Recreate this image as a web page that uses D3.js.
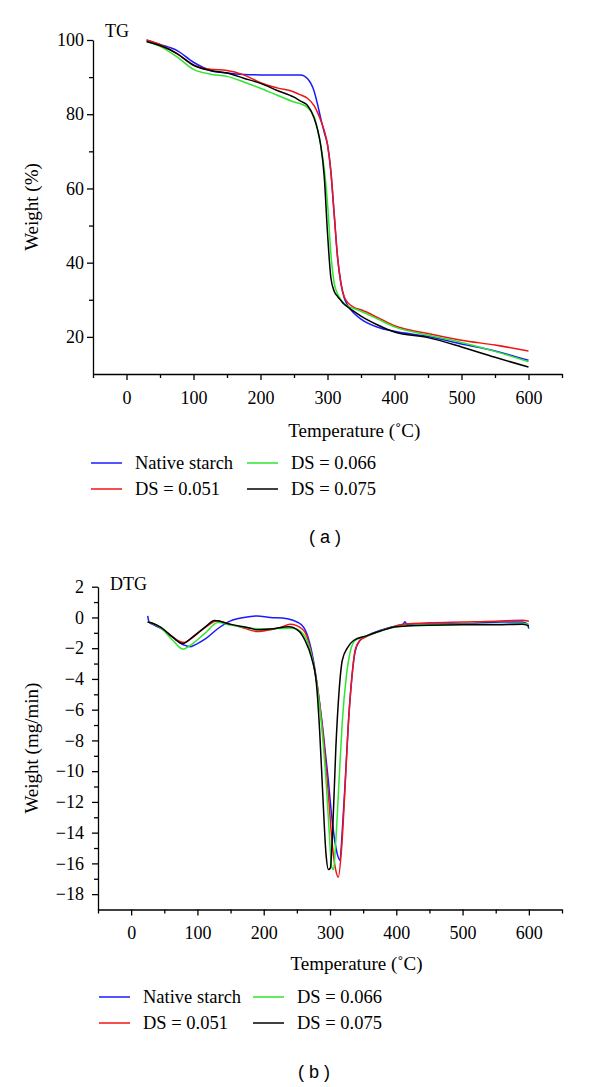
<!DOCTYPE html>
<html><head><meta charset="utf-8">
<script src="https://cdn.jsdelivr.net/npm/d3@7"></script>
<style>body{margin:0;background:#fff}svg text{font-family:"Liberation Serif","Times New Roman",serif;fill:#000}</style>
</head><body>
<svg id="c" width="600" height="1087"></svg>
<script>
// ---------- data ----------
const seriesNames = ["Native starch", "DS = 0.051", "DS = 0.066", "DS = 0.075"];
const seriesColors = ["#1a1aff", "#f01414", "#2ee62e", "#000000"];

const xMajorTicks = [0, 100, 200, 300, 400, 500, 600];
const xMinorTicks = [-50, 50, 150, 250, 350, 450, 550, 650];
const tgMajorTicks = [20, 40, 60, 80, 100];
const tgMinorTicks = [30, 50, 70, 90];
const dtgMajorTicks = [2, 0, -2, -4, -6, -8, -10, -12, -14, -16, -18];
const dtgMinorTicks = [1, -1, -3, -5, -7, -9, -11, -13, -15, -17];

// TG (%) on a shared temperature grid
const tgTemp = [30, 50, 75, 100, 125, 150, 175, 200, 225, 250, 260, 270, 280, 285, 290, 295, 300, 305, 310, 315, 320, 325, 330, 340, 350, 375, 400, 450, 500, 550, 600];
const tgNative = [100, 98.8, 97.2, 94.0, 91.8, 91.1, 90.7, 90.6, 90.6, 90.6, 90.6, 89.6, 86.2, 82.8, 78.8, 75.2, 71.8, 64.6, 53.0, 41.5, 34.5, 30.5, 28.5, 26.3, 24.8, 22.6, 21.5, 20.1, 18.1, 16.2, 13.7];
const tg051 = [100, 98.8, 96.3, 93.3, 92.1, 91.8, 90.6, 88.5, 87.1, 86.0, 85.2, 84.3, 82.3, 80.5, 78.3, 75.7, 71.8, 64.6, 53.0, 41.5, 34.5, 30.8, 29.3, 27.9, 27.3, 25.2, 23.0, 20.9, 19.1, 17.8, 16.2];
const tg066 = [99.6, 98.3, 95.5, 92.1, 90.8, 90.2, 88.7, 87.0, 85.1, 83.3, 82.8, 81.8, 79.3, 76.0, 71.5, 65.5, 56.0, 42.5, 34.5, 31.6, 30.0, 28.9, 28.3, 27.6, 26.9, 24.8, 22.7, 20.5, 18.5, 16.1, 13.3];
const tg075 = [99.6, 98.5, 96.4, 93.2, 91.8, 91.1, 89.7, 88.3, 86.4, 84.6, 83.5, 82.4, 79.0, 76.0, 71.5, 63.5, 48.0, 36.0, 32.3, 30.9, 29.8, 28.8, 28.1, 26.8, 25.6, 23.2, 21.3, 19.8, 17.3, 14.5, 11.9];

// DTG (mg/min), each series with its own temperature points
const dtgNativeT = [25, 27, 35, 50, 65, 80, 90, 100, 112, 131, 150, 170, 190, 210, 228, 243, 257, 267, 275, 282, 289, 297, 304, 311, 315, 318.5, 323.5, 328, 333, 338, 345, 355, 375, 390, 400, 410, 413, 416, 430, 460, 510, 560, 590, 597, 600];
const dtgNativeV = [0.1, -0.3, -0.5, -0.85, -1.35, -1.8, -1.9, -1.7, -1.4, -0.72, -0.22, 0, 0.1, 0, -0.03, -0.17, -0.48, -1.3, -2.8, -4.8, -7.2, -10.4, -13.5, -15.4, -15.8, -13.9, -10.2, -6.7, -3.9, -2.2, -1.5, -1.2, -0.85, -0.65, -0.55, -0.45, -0.28, -0.45, -0.42, -0.43, -0.4, -0.3, -0.3, -0.4, -0.72];
const dtg051T = [25, 30, 40, 55, 70, 80, 90, 100, 115, 130, 145, 165, 190, 210, 225, 240, 258, 265, 270, 280, 289, 297, 304, 309, 312.5, 317.5, 322, 327, 333, 338, 345, 355, 375, 400, 413, 425, 450, 500, 550, 590, 600];
const dtg051V = [-0.3, -0.35, -0.55, -1.0, -1.5, -1.63, -1.4, -1.05, -0.55, -0.22, -0.4, -0.62, -0.92, -0.8, -0.65, -0.45, -0.75, -1.2, -2.0, -4.2, -7.4, -11.2, -15.0, -16.5, -16.9, -15.0, -11.7, -7.4, -3.9, -2.1, -1.5, -1.25, -0.9, -0.55, -0.42, -0.4, -0.35, -0.3, -0.25, -0.18, -0.25];
const dtg066T = [25, 30, 45, 63, 78, 92, 112, 131, 150, 180, 200, 220, 243, 257.6, 267, 277, 286.8, 294, 299, 302.4, 305.4, 308.8, 313.7, 318.5, 325, 330.7, 338, 355, 375, 400, 450, 500, 550, 590, 600];
const dtg066V = [-0.3, -0.35, -0.7, -1.5, -2.06, -1.73, -1.0, -0.33, -0.5, -0.7, -0.75, -0.72, -0.7, -0.98, -1.7, -3.5, -6.8, -10.6, -14.1, -16.2, -16.4, -14.5, -10.6, -6.8, -3.7, -2.2, -1.5, -1.2, -0.9, -0.6, -0.48, -0.45, -0.45, -0.4, -0.45];
const dtg075T = [25, 30, 45, 63, 78, 92, 111, 126, 150, 180, 190, 210, 238, 252.7, 262.4, 272, 279.5, 284.4, 289.3, 294, 297.6, 300.5, 304, 308.8, 313.7, 318.5, 326, 335.6, 355, 375, 400, 450, 500, 550, 590, 600];
const dtg075V = [-0.3, -0.35, -0.65, -1.3, -1.7, -1.3, -0.65, -0.2, -0.45, -0.7, -0.8, -0.75, -0.6, -0.87, -1.5, -2.6, -4.3, -7.4, -11.7, -15.4, -16.4, -16.3, -13.9, -8.5, -4.8, -2.8, -2.0, -1.5, -1.2, -0.9, -0.6, -0.5, -0.48, -0.48, -0.45, -0.55];

// ---------- drawing ----------
const svg = d3.select("#c");
const SERIF = '"Liberation Serif","Times New Roman",serif';
const fmt = d => (d < 0 ? "\u2212" + Math.abs(d) : String(d));

function panel(cfg) {
  const x = d3.scaleLinear().domain([-50, 650]).range(cfg.xRange);
  const y = d3.scaleLinear().domain(cfg.yDomain).range(cfg.yRange);
  const g = svg.append("g");
  const x0 = cfg.xRange[0], yb = cfg.yRange[0];

  // minor ticks
  g.append("g").attr("transform", `translate(0,${yb})`)
    .call(d3.axisBottom(x).tickValues(xMinorTicks).tickSize(4).tickFormat(""))
    .call(a => a.select(".domain").remove());
  g.append("g").attr("transform", `translate(${x0},0)`)
    .call(d3.axisLeft(y).tickValues(cfg.yMinor).tickSize(4).tickFormat(""))
    .call(a => a.select(".domain").remove());
  // major axes
  const xa = g.append("g").attr("transform", `translate(0,${yb})`)
    .call(d3.axisBottom(x).tickValues(xMajorTicks).tickSize(6).tickSizeOuter(0).tickPadding(11).tickFormat(fmt));
  const ya = g.append("g").attr("transform", `translate(${x0},0)`)
    .call(d3.axisLeft(y).tickValues(cfg.yMajor).tickSize(6).tickSizeOuter(0).tickPadding(cfg.yPad).tickFormat(fmt));
  [xa, ya].forEach(a => {
    a.attr("font-family", SERIF).attr("font-size", 18);
    a.selectAll("text").style("font-family", SERIF).style("font-size", "18px").attr("fill", "#000");
  });
  g.selectAll("path.domain").attr("stroke", "#000").attr("stroke-width", 1.3);
  g.selectAll(".tick line").attr("stroke", "#000").attr("stroke-width", 1.3);

  // curves
  const line = d3.line().x(d => x(d[0])).y(d => y(d[1])).curve(d3.curveMonotoneX);
  cfg.series.forEach((s, i) => {
    g.append("path").datum(s).attr("d", line)
      .attr("fill", "none").attr("stroke", seriesColors[i]).attr("stroke-width", 1.5)
      .attr("stroke-linejoin", "round");
  });

  // labels
  g.append("text").attr("x", x0 + 12).attr("y", cfg.titleY).style("font-size", "18px").text(cfg.title);
  g.append("text").attr("transform", `translate(${cfg.yLabelX},${(cfg.yRange[0] + cfg.yRange[1]) / 2}) rotate(-90)`)
    .attr("text-anchor", "middle").style("font-size", "19px").text(cfg.yLabel);
  g.append("text").attr("x", x(340)).attr("y", cfg.xLabelY).attr("text-anchor", "middle")
    .style("font-size", "19px").text("Temperature (\u02DAC)");

  // legend 2x2
  const lg = cfg.legend;
  const pos = [[0, 0], [0, 1], [1, 0], [1, 1]];
  seriesNames.forEach((n, i) => {
    const [c, r] = pos[i];
    const lx = lg.x[c], ly = lg.y[r];
    g.append("line").attr("x1", lx).attr("x2", lx + 31).attr("y1", ly).attr("y2", ly)
      .attr("stroke", seriesColors[i]).attr("stroke-width", 1.5);
    g.append("text").attr("x", lx + lg.gap).attr("y", ly + 6).style("font-size", "18.5px").text(n);
  });

  g.append("text").attr("x", cfg.capX).attr("y", cfg.capY).attr("text-anchor", "middle")
    .style("font-family", '"Liberation Sans",Arial,sans-serif').style("font-size", "18px").text(cfg.caption);
}

const zip = (t, v) => t.map((d, i) => [d, v[i]]);

panel({
  xRange: [93, 562], yDomain: [10, 100], yRange: [374, 40],
  yMajor: tgMajorTicks, yMinor: tgMinorTicks, yPad: 3,
  series: [zip(tgTemp, tgNative), zip(tgTemp, tg051), zip(tgTemp, tg066), zip(tgTemp, tg075)],
  title: "TG", titleY: 37, yLabel: "Weight (%)", yLabelX: 38, xLabelY: 437,
  legend: { x: [91, 247], y: [463, 489], gap: 44 },
  caption: "( a )", capX: 325, capY: 543
});

panel({
  xRange: [98, 562], yDomain: [-19, 2], yRange: [909.5, 586.7],
  yMajor: dtgMajorTicks, yMinor: dtgMinorTicks, yPad: 8,
  series: [zip(dtgNativeT, dtgNativeV), zip(dtg051T, dtg051V), zip(dtg066T, dtg066V), zip(dtg075T, dtg075V)],
  title: "DTG", titleY: 590, yLabel: "Weight (mg/min)", yLabelX: 38, xLabelY: 970,
  legend: { x: [99, 253], y: [997, 1023], gap: 44 },
  caption: "( b )", capX: 314, capY: 1078
});
</script>
</body></html>
